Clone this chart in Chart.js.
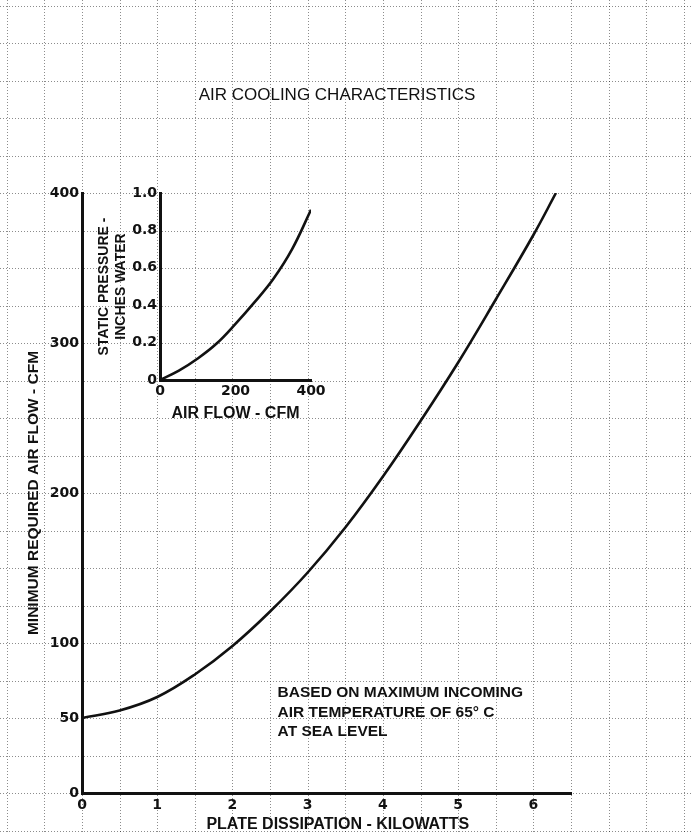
<!DOCTYPE html>
<html>
<head>
<meta charset="utf-8">
<script src="https://cdn.jsdelivr.net/npm/chart.js@4.4.1/dist/chart.umd.min.js"></script>
<style>
  html, body { margin: 0; padding: 0; background: #fff; }
  #wrap { position: relative; width: 693px; height: 833px; }
  #wrap canvas { position: absolute; left: 0; top: 0; }
</style>
</head>
<body>
<div id="wrap">
  <canvas id="mainChart" width="693" height="833"></canvas>
  <canvas id="insetChart" width="693" height="833"></canvas>
</div>
<script>
// main curve: plate dissipation (kW) -> minimum required air flow (CFM)
const dissipationKw = [0, 0.5, 1, 1.5, 2, 2.5, 3, 3.5, 4, 4.5, 5, 5.5, 6, 6.3];
const airFlowCfm = [50, 55, 64, 79, 98, 121, 147, 177, 211, 248, 287, 329, 372, 400];
const mainXLabels = [0, 1, 2, 3, 4, 5, 6];
const mainYLabels = [0, 50, 100, 200, 300, 400];

// inset: air flow (CFM) -> static pressure (inches water)
const insetFlowCfm = [0, 50, 100, 150, 200, 250, 300, 350, 400];
const staticPressure = [0, 0.05, 0.115, 0.195, 0.30, 0.415, 0.54, 0.70, 0.91];
const insetXLabels = [0, 200, 400];
const insetYLabels = [0, 0.2, 0.4, 0.6, 0.8, 1.0];

const chartTitle = 'AIR COOLING CHARACTERISTICS';
const noteLines = ['BASED ON MAXIMUM INCOMING', 'AIR TEMPERATURE OF 65° C', 'AT SEA LEVEL'];

const INK = '#111';
const numFont = { family: 'DejaVu Sans', size: 14, weight: 'bold' };

const toPoints = (xs, ys) => xs.map((v, i) => ({ x: v, y: ys[i] }));

// graph-paper grid, drawn on the main scales and carried past the plot area
const paperGrid = {
  id: 'paperGrid',
  beforeDraw(chart) {
    const { ctx, width, height, scales: { x, y } } = chart;
    ctx.save();
    ctx.fillStyle = '#fff';
    ctx.fillRect(0, 0, width, height);
    ctx.strokeStyle = 'rgba(0,0,0,0.45)';
    ctx.lineWidth = 1;
    ctx.setLineDash([1, 2]);
    ctx.beginPath();
    for (let k = -3; k <= 17; k++) {
      const px = Math.round(x.getPixelForValue(k * 0.5)) + 0.5;
      ctx.moveTo(px, 0);
      ctx.lineTo(px, height);
    }
    for (let k = -2; k <= 22; k++) {
      const py = Math.round(y.getPixelForValue(k * 25)) + 0.5;
      ctx.moveTo(0, py);
      ctx.lineTo(width, py);
    }
    ctx.stroke();
    ctx.restore();
  },
};

const chartText = {
  id: 'chartText',
  afterDraw(chart) {
    const { ctx, scales: { x, y } } = chart;
    ctx.save();
    ctx.fillStyle = INK;
    ctx.textBaseline = 'middle';

    ctx.textAlign = 'center';
    ctx.font = '17px "Liberation Sans"';
    ctx.fillText(chartTitle, x.getPixelForValue(3.39), y.getPixelForValue(465));

    ctx.font = 'bold 16px "Liberation Sans"';
    ctx.fillText('PLATE DISSIPATION - KILOWATTS', x.getPixelForValue(3.4), y.getPixelForValue(-21.3));

    ctx.textAlign = 'left';
    ctx.font = 'bold 15.5px "Liberation Sans"';
    const noteY = [67, 53.7, 40.7];
    noteLines.forEach((line, i) => {
      ctx.fillText(line, x.getPixelForValue(2.6), y.getPixelForValue(noteY[i]));
    });
    ctx.restore();
  },
};

new Chart(document.getElementById('mainChart'), {
  type: 'line',
  data: {
    datasets: [{
      data: toPoints(dissipationKw, airFlowCfm),
      borderColor: INK,
      borderWidth: 2.6,
      pointRadius: 0,
      tension: 0.4,
    }],
  },
  options: {
    responsive: false,
    animation: false,
    layout: { padding: { left: 0, right: 122, top: 193, bottom: 0 } },
    plugins: { legend: { display: false }, tooltip: { enabled: false } },
    scales: {
      x: {
        type: 'linear',
        min: 0,
        max: 6.5,
        grid: { display: false, drawTicks: false },
        border: { display: true, color: INK, width: 3 },
        ticks: {
          stepSize: 0.5,
          autoSkip: false,
          maxRotation: 0,
          padding: 4,
          color: INK,
          font: numFont,
          callback: (v) => (mainXLabels.includes(v) ? String(v) : ''),
        },
        afterFit: (s) => { s.height = 40; },
      },
      y: {
        min: 0,
        max: 400,
        grid: { display: false, drawTicks: false },
        border: { display: true, color: INK, width: 3 },
        ticks: {
          stepSize: 25,
          autoSkip: false,
          padding: 3,
          color: INK,
          font: numFont,
          callback: (v) => (mainYLabels.includes(v) ? String(v) : ''),
        },
        title: {
          display: true,
          text: 'MINIMUM REQUIRED AIR FLOW - CFM',
          color: INK,
          font: { family: 'Liberation Sans', size: 15.5, weight: 'bold' },
          padding: { top: 24, bottom: 0 },
        },
        afterFit: (s) => { s.width = 82; },
      },
    },
  },
  plugins: [paperGrid, chartText],
});

new Chart(document.getElementById('insetChart'), {
  type: 'line',
  data: {
    datasets: [{
      data: toPoints(insetFlowCfm, staticPressure),
      borderColor: INK,
      borderWidth: 2.6,
      pointRadius: 0,
      tension: 0.4,
    }],
  },
  options: {
    responsive: false,
    animation: false,
    layout: { padding: { left: 90, right: 382, top: 193, bottom: 408 } },
    plugins: { legend: { display: false }, tooltip: { enabled: false } },
    scales: {
      x: {
        type: 'linear',
        min: 0,
        max: 400,
        grid: { display: false, drawTicks: false },
        border: { display: true, color: INK, width: 3 },
        ticks: {
          stepSize: 100,
          autoSkip: false,
          maxRotation: 0,
          padding: 3,
          color: INK,
          font: numFont,
          callback: (v) => (insetXLabels.includes(v) ? String(v) : ''),
        },
        title: {
          display: true,
          text: 'AIR FLOW - CFM',
          color: INK,
          font: { family: 'Liberation Sans', size: 16, weight: 'bold' },
          padding: { top: 0, bottom: 2 },
        },
        afterFit: (s) => { s.height = 45; },
      },
      y: {
        min: 0,
        max: 1,
        grid: { display: false, drawTicks: false },
        border: { display: true, color: INK, width: 3 },
        ticks: {
          stepSize: 0.2,
          autoSkip: false,
          padding: 3,
          color: INK,
          font: numFont,
          callback: (v) => {
            const r = Math.round(v * 10) / 10;
            if (!insetYLabels.includes(r)) return '';
            return r === 0 ? '0' : r.toFixed(1);
          },
        },
        title: {
          display: true,
          text: ['STATIC PRESSURE -', 'INCHES WATER'],
          color: INK,
          font: { family: 'Liberation Sans', size: 14, weight: 'bold' },
          padding: { top: 6, bottom: 0 },
        },
        afterFit: (s) => { s.width = 70; },
      },
    },
  },
});
</script>
</body>
</html>
